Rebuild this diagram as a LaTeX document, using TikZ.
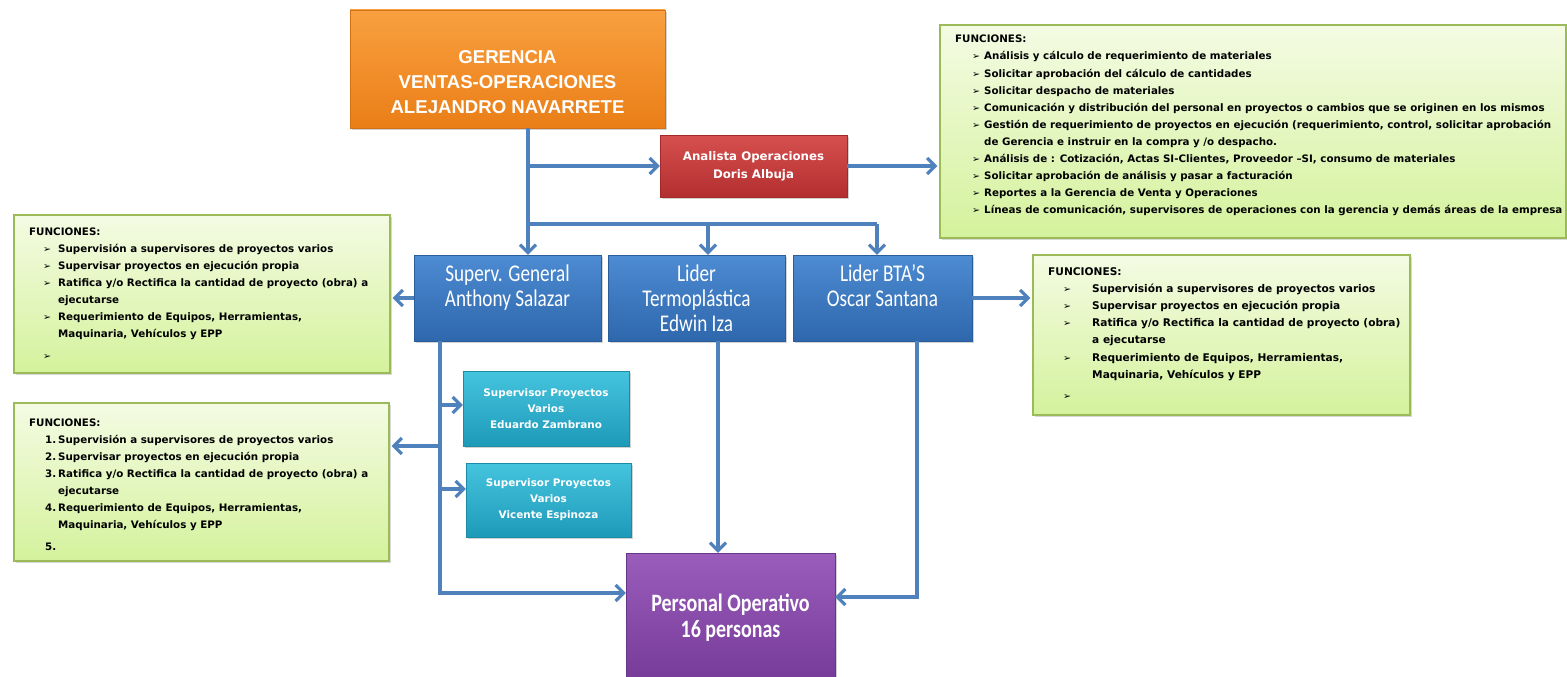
\documentclass[tikz,border=0pt]{standalone}
\usepackage{fontspec}
\setmainfont{DejaVu Sans}
\newfontfamily\gerfont{Liberation Sans}
\newfontfamily\bluefont{Carlito}[FakeStretch=0.8]
\newfontfamily\smallfont{DejaVu Sans}
\usetikzlibrary{arrows.meta,shadows}
\definecolor{lnblue}{HTML}{4F81BD}
\definecolor{grtop}{HTML}{F4FBE3}
\definecolor{grbot}{HTML}{D4F29C}
\definecolor{grline}{HTML}{9BBB59}
\definecolor{ortop}{HTML}{F9A040}
\definecolor{orbot}{HTML}{EA7E16}
\definecolor{rdtop}{HTML}{D65050}
\definecolor{rdbot}{HTML}{B32E2E}
\definecolor{bltop}{HTML}{4D8BD2}
\definecolor{blbot}{HTML}{2E67AC}
\definecolor{cytop}{HTML}{45C4DE}
\definecolor{cybot}{HTML}{1E9AB9}
\definecolor{putop}{HTML}{9A5DBB}
\definecolor{pubot}{HTML}{763A98}
\newcommand{\bsym}{{\fontsize{9.5}{9.5}\selectfont ➢}}
\newcommand{\myTR}{\hspace*{17pt}\makebox[12pt][l]{\bsym}}
\newcommand{\myTRc}{\hspace*{29pt}}
\newcommand{\myL}{\hspace*{14pt}\makebox[15pt][l]{\bsym}}
\newcommand{\myLc}{\hspace*{29pt}}
\newcommand{\myR}{\hspace*{15pt}\makebox[29pt][l]{\bsym}}
\newcommand{\myRc}{\hspace*{44pt}}
\newcommand{\myN}[1]{\hspace*{16pt}\makebox[13pt][l]{#1}}
\tikzset{
  x=1pt, y=-1pt,
  cbox/.style={rectangle, inner sep=0pt, align=center, text=white,
    drop shadow={opacity=0.35, shadow xshift=2pt, shadow yshift=-2pt}},
  orbox/.style={cbox, top color=ortop, bottom color=orbot, draw=orbot!90!black},
  rdbox/.style={cbox, top color=rdtop, bottom color=rdbot, draw=rdbot!90!black},
  blbox/.style={cbox, top color=bltop, bottom color=blbot, draw=blbot!90!black},
  cybox/.style={cbox, top color=cytop, bottom color=cybot, draw=cybot!90!black},
  pubox/.style={cbox, top color=putop, bottom color=pubot, draw=pubot!90!black},
  fnbox/.style={rectangle, inner sep=0pt, top color=grtop, bottom color=grbot,
    draw=grline, line width=1.2pt,
    drop shadow={opacity=0.3, shadow xshift=2pt, shadow yshift=-2pt}},
  fntext/.style={inner sep=0pt, anchor=north west, align=left,
    font=\bfseries\fontsize{10.3}{17.1}\selectfont},
  link/.style={draw=lnblue, line width=3.2pt},
  arr/.style={link, -{Straight Barb[length=8pt,width=16pt]}},
}
\begin{document}
\begin{tikzpicture}
\useasboundingbox[fill=white] (0,0) rectangle (1567,677);

% boxes
\node[orbox, minimum width=315pt, minimum height=118pt] (ger) at (507.5,69) {};
\node[inner sep=0pt, align=center, text=white,
  font=\gerfont\bfseries\fontsize{18.6}{25}\selectfont] (gerT) at (507.5,82)
  {GERENCIA\\VENTAS-OPERACIONES\\ALEJANDRO NAVARRETE};
\node[rdbox, minimum width=187pt, minimum height=62pt,
  font=\smallfont\bfseries\fontsize{11.8}{18}\selectfont] (ana) at (753.5,166)
  {Analista Operaciones\\Doris Albuja};
\node[blbox, minimum width=187pt, minimum height=86pt,
  font=\bluefont\fontsize{24}{25}\selectfont] (sg) at (507.5,298)
  {Superv. General\\Anthony Salazar\\\mbox{}};
\node[blbox, minimum width=177pt, minimum height=86pt,
  font=\bluefont\fontsize{24}{25}\selectfont] (lt) at (696.5,298)
  {Lider\\Termoplástica\\Edwin Iza};
\node[blbox, minimum width=179pt, minimum height=86pt,
  font=\bluefont\fontsize{24}{25}\selectfont] (bta) at (882.5,298)
  {Lider BTA’S\\Oscar Santana\\\mbox{}};
\node[cybox, minimum width=166pt, minimum height=75pt,
  font=\smallfont\bfseries\fontsize{10.4}{16}\selectfont] (ed) at (546,408.5)
  {Supervisor Proyectos\\Varios\\Eduardo Zambrano};
\node[cybox, minimum width=165pt, minimum height=74pt,
  font=\smallfont\bfseries\fontsize{10.4}{16}\selectfont] (vi) at (548.5,500)
  {Supervisor Proyectos\\Varios\\Vicente Espinoza};
\node[pubox, minimum width=209pt, minimum height=129pt,
  font=\bluefont\bfseries\fontsize{25}{26}\selectfont] (pur) at (730.5,617.5)
  {Personal Operativo\\16 personas};

% function boxes
\node[fnbox, minimum width=626pt, minimum height=213pt] (ftr) at (1253,131.5) {};
\node[fntext] (ftrT) at (955,35) {FUNCIONES:\\
\myTR Análisis y cálculo de requerimiento de materiales\\
\myTR Solicitar aprobación del cálculo de cantidades\\
\myTR Solicitar despacho de materiales\\
\myTR Comunicación y distribución del personal en proyectos o cambios que se originen en los mismos\\
\myTR Gestión de requerimiento de proyectos en ejecución (requerimiento, control, solicitar aprobación\\
\myTRc de Gerencia e instruir en la compra y /o despacho.\\
\myTR Análisis de : Cotización, Actas SI-Clientes, Proveedor –SI, consumo de materiales\\
\myTR Solicitar aprobación de análisis y pasar a facturación\\
\myTR Reportes a la Gerencia de Venta y Operaciones\\
\myTR Líneas de comunicación, supervisores de operaciones con la gerencia y demás áreas de la empresa};

\node[fnbox, minimum width=376pt, minimum height=158pt] (fl1) at (202,294) {};
\node[fntext] (fl1T) at (29,227.5) {FUNCIONES:\\
\myL Supervisión a supervisores de proyectos varios\\
\myL Supervisar proyectos en ejecución propia\\
\myL Ratifica y/o Rectifica la cantidad de proyecto (obra) a\\
\myLc ejecutarse\\
\myL Requerimiento de Equipos, Herramientas,\\
\myLc Maquinaria, Vehículos y EPP\\[4pt]
\myL};

\node[fnbox, minimum width=375pt, minimum height=158pt] (fl2) at (201.5,482) {};
\node[fntext] (fl2T) at (29,418.5) {FUNCIONES:\\
\myN{1.}Supervisión a supervisores de proyectos varios\\
\myN{2.}Supervisar proyectos en ejecución propia\\
\myN{3.}Ratifica y/o Rectifica la cantidad de proyecto (obra) a\\
\myLc ejecutarse\\
\myN{4.}Requerimiento de Equipos, Herramientas,\\
\myLc Maquinaria, Vehículos y EPP\\[4pt]
\myN{5.}};

\node[fnbox, minimum width=377pt, minimum height=160pt] (fr) at (1221.5,335) {};
\node[fntext, font=\bfseries\fontsize{10.6}{17.1}\selectfont] (frT) at (1048,267.5) {FUNCIONES:\\
\myR Supervisión a supervisores de proyectos varios\\
\myR Supervisar proyectos en ejecución propia\\
\myR Ratifica y/o Rectifica la cantidad de proyecto (obra)\\
\myRc a ejecutarse\\
\myR Requerimiento de Equipos, Herramientas,\\
\myRc Maquinaria, Vehículos y EPP\\[4pt]
\myR};

% junction coordinates
\coordinate (ja) at (528,166);
\coordinate (jt) at (528,224);
\coordinate (jm) at (708,224);
\coordinate (jr) at (877,224);
\coordinate (sgx) at (440,593);
\coordinate (e1) at (440,405);
\coordinate (e2) at (440,446);
\coordinate (e3) at (440,489);
\coordinate (ltb) at (718,341);
\coordinate (bb) at (917,597);

% connectors
\draw[link] (ger.south -| jt) -- (jt) -- (jr);
\draw[arr] (ja) -- (ana.west);
\draw[arr, shorten >=2pt] (ana.east) -- (ftr.west |- ana.east);
\draw[arr] (jt) -- (sg.north -| jt);
\draw[arr] (jm) -- (lt.north -| jm);
\draw[arr] (jr) -- (bta.north -| jr);
\draw[arr, shorten >=2pt] (sg.west) -- (fl1.east |- sg.west);
\draw[arr, shorten >=2pt] (bta.east) -- (fr.west |- bta.east);
\draw[arr] (sg.south -| sgx) -- (sgx) -- (pur.west |- sgx);
\draw[arr] (e1) -- (ed.west |- e1);
\draw[arr, shorten >=2pt] (e2) -- (fl2.east |- e2);
\draw[arr] (e3) -- (vi.west |- e3);
\draw[arr] (lt.south -| ltb) -- (pur.north -| ltb);
\draw[arr] (bta.south -| bb) -- (bb) -- (pur.east |- bb);
\end{tikzpicture}
\end{document}
